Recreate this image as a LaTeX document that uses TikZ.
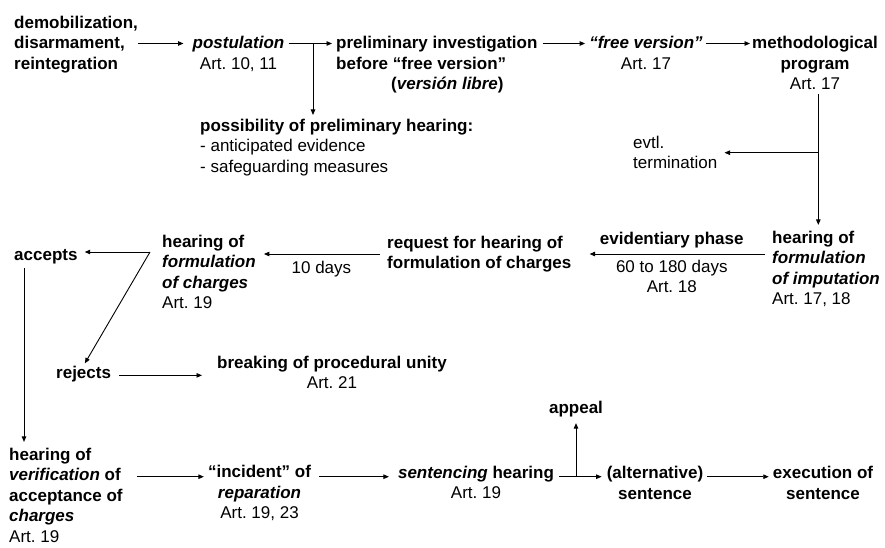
\documentclass[tikz,border=0pt]{standalone}
\usepackage{fontspec}
\setmainfont{Liberation Sans}
\usetikzlibrary{positioning,arrows.meta}
\newcommand{\flowfont}{\fontsize{17}{20.5}\selectfont\frenchspacing}
\tikzset{stage node/.style={inner sep=0pt,font=\flowfont\bfseries,align=left},
	stagec node/.style={inner sep=0pt,font=\flowfont\bfseries,align=center},
	note node/.style={inner sep=0pt,font=\flowfont,align=left},
	flow/.style={-{Triangle[length=5.5pt,width=4.5pt]},line width=0.9pt},
}

\begin{document}
\begin{tikzpicture}[x=1pt,y=-1pt]
	\useasboundingbox (0,0) rectangle (885,547);
	\node[stage node,anchor=base west] (demob) at (14,69.3) {demobilization,\\disarmament,\\reintegration};
	\node[stagec node,anchor=base] (postul) at (238.5,69) {\itshape postulation\\\mdseries Art. 10, 11};
	\node[stage node,anchor=base west] (prelim) at (336,89.5) {preliminary investigation\\before “free version”\\\hspace*{55pt}(\textit{versión libre})};
	\node[stagec node,anchor=base] (free) at (646,69) {\itshape “free version”\\\mdseries Art. 17};
	\node[stagec node,anchor=base] (method) at (815,89.5) {methodological\\program\\\mdseries Art. 17};
	\node[stage node,anchor=base west] (possib) at (200,172) {possibility of preliminary hearing:\\\mdseries - anticipated evidence\\\mdseries - safeguarding measures};
	\node[note node,anchor=base west] (evtl) at (633,168.5) {evtl.\\termination};
	\node[stage node,anchor=base west] (imput) at (772,304.5) {hearing of\\\itshape formulation\\\itshape of imputation\\\mdseries Art. 17, 18};
	\node[stage node,anchor=base west] (request) at (387,268.5) {request for hearing of\\formulation of charges};
	\node[stage node,anchor=base west] (charges) at (162,308.5) {hearing of\\\itshape formulation\\\itshape of charges\\\mdseries Art. 19};
	\node[stage node,anchor=base west] (accepts) at (14,260) {accepts};
	\node[stage node,anchor=base west] (rejects) at (56,378) {rejects};
	\node[stagec node,anchor=base west] (breaking) at (217,388.5) {breaking of procedural unity\\\mdseries Art. 21};
	\node[stage node,anchor=base west] (verif) at (9,542) {hearing of\\{\itshape verification} of\\acceptance of\\\itshape charges\\\mdseries Art. 19};
	\node[stagec node,anchor=base] (incident) at (259.5,518.7) {“incident” of\\\itshape reparation\\\mdseries Art. 19, 23};
	\node[stagec node,anchor=base] (sentencing) at (476,498.5) {\textit{sentencing} hearing\\\mdseries Art. 19};
	\node[stagec node,anchor=base] (appeal) at (576,413) {appeal};
	\node[stagec node,anchor=base] (alt) at (655,499) {(alternative)\\sentence};
	\node[stagec node,anchor=base] (exec) at (823,499) {execution of\\sentence};

	\coordinate (r1) at (0,43.5);
	\coordinate (postjct) at (313,43.5);
	\coordinate (methjct) at (method.south -| 818.3,0);
	\coordinate (evtljct) at (818.3,152.7);
	\coordinate (r2) at (0,254);
	\coordinate (chjct) at (150,252);
	\coordinate (r3) at (0,476.7);
	\coordinate (sentjct) at (576,476.7);

	\draw[flow,shorten >=9pt] (demob.east |- r1) -- (postul.west |- r1);
	\draw[flow,shorten <=4pt,shorten >=4pt] (postul.east |- r1) -- (prelim.west |- r1);
	\draw[flow,shorten >=3.5pt] (postjct) -- (postjct |- possib.north);
	\draw[flow,shorten <=5pt,shorten >=4pt] (prelim.east |- r1) -- (free.west |- r1);
	\draw[flow,shorten <=3pt,shorten >=2pt] (free.east |- r1) -- (method.west |- r1);
	\draw[flow,shorten <=4.5pt,shorten >=5.6pt] (methjct) -- (methjct |- imput.north);
	\draw[flow,shorten >=7pt] (evtljct) -- (evtljct -| evtl.east);
	\draw[flow,shorten <=7pt,shorten >=18pt] (imput.west |- r2) -- node[above=5.4pt,stagec node]{evidentiary phase} node[below=5.5pt,note node,align=center]{60 to 180 days\\Art. 18} (request.east |- r2);
	\draw[flow,shorten <=7pt,shorten >=8pt] (request.west |- r2) -- node[below=6.8pt,note node]{10 days} (charges.east |- r2);
	\draw[flow,shorten >=7pt] (chjct) -- (chjct -| accepts.east);
	\draw[flow,shorten >=2.5pt] (chjct) -- (rejects.north);
	\draw[flow,shorten <=4.4pt,shorten >=5.6pt] (accepts.south -| 24,0) -- (verif.north -| 24,0);
	\draw[flow,shorten <=8pt,shorten >=15pt] (rejects.mid east) -- (rejects.mid east -| breaking.west);
	\draw[flow,shorten <=14pt,shorten >=4pt] (verif.east |- r3) -- (incident.west |- r3);
	\draw[flow,shorten <=8pt,shorten >=9pt] (incident.east |- r3) -- (sentencing.west |- r3);
	\draw[flow,shorten <=5pt,shorten >=5pt] (sentencing.east |- r3) -- (alt.west |- r3);
	\draw[flow,shorten >=6.4pt] (sentjct) -- (appeal.south);
	\draw[flow,shorten <=4pt,shorten >=4pt] (alt.east |- r3) -- (exec.west |- r3);
\end{tikzpicture}
\end{document}
